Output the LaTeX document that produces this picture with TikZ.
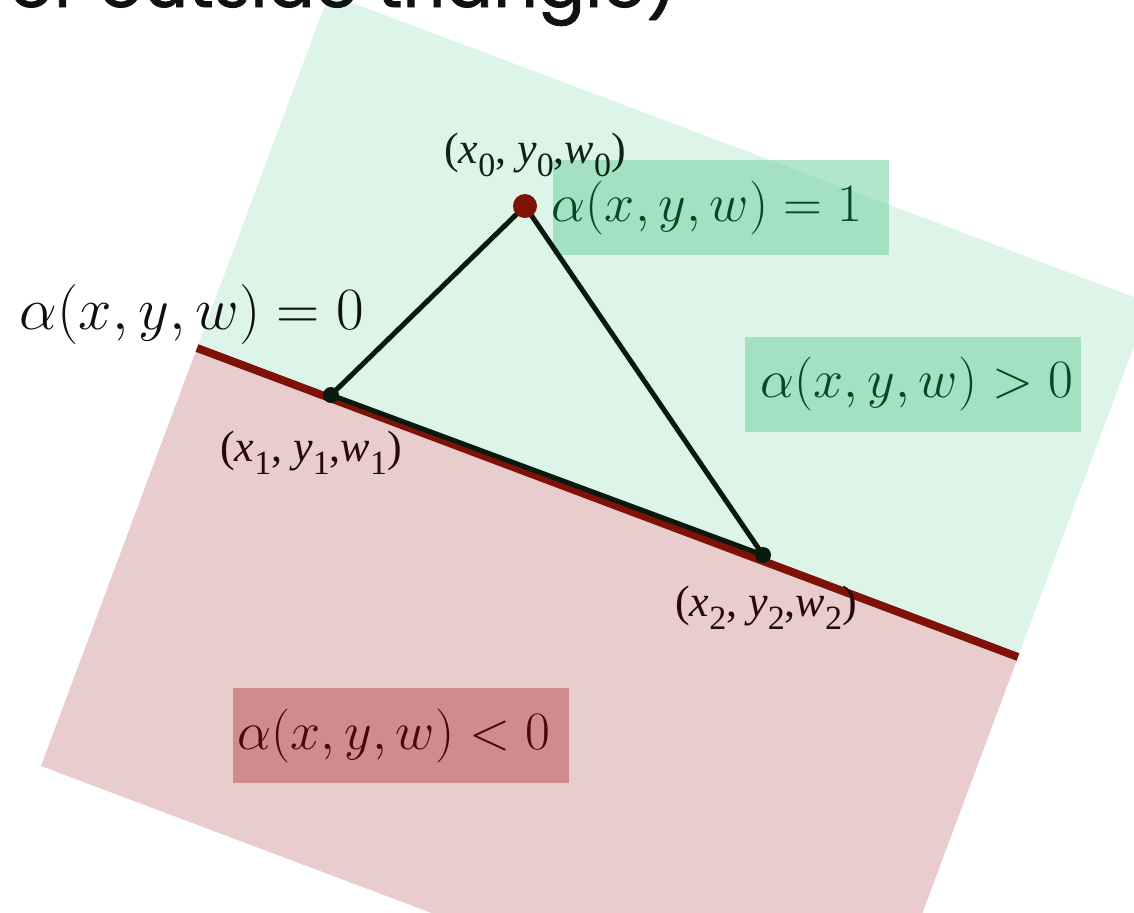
\RequirePackage{fix-cm}
\documentclass[tikz,border=0pt]{standalone}
\usepackage{fontspec}
\setmainfont{Liberation Serif}
\newfontfamily\slidefont{Poppins}[FakeBold=1.2]
\usetikzlibrary{positioning}
\definecolor{zonegreen}{RGB}{221,244,232}
\definecolor{boxgreen}{RGB}{123,213,167}
\definecolor{zonered}{RGB}{233,204,205}
\definecolor{boxred}{RGB}{209,139,140}
\definecolor{edgered}{RGB}{127,18,8}
\definecolor{inkgreen}{RGB}{10,70,38}
\definecolor{inkred}{RGB}{72,8,8}
\definecolor{trigray}{RGB}{8,26,14}
\newcommand{\lowidx}[1]{\raisebox{-0.3em}{\fontsize{17}{20}\selectfont #1}}
\newcommand{\vtx}[1]{(\textit{x}\lowidx{#1}, \textit{y}\lowidx{#1},\textit{w}\lowidx{#1})}

\begin{document}
\begin{tikzpicture}[x=0.5pt, y=-0.5pt,
    eqbox/.style={minimum width=168pt, minimum height=47.5pt, inner sep=0pt, font=\fontsize{27}{32}\selectfont},
    vlabel/.style={inner sep=0pt, font=\fontsize{22}{26}\selectfont},
    dot/.style={circle, fill=trigray, inner sep=0pt, minimum size=8pt},
    bigdot/.style={circle, fill=edgered, inner sep=0pt, minimum size=12pt}]
    \useasboundingbox (0,0) rectangle (1134,912);
    \clip (0,0) rectangle (1134,912);
    \coordinate (gt) at (329,-6);
    \coordinate (gl) at (197,348);
    \coordinate (gr) at (1018,657);
    \coordinate (gd) at (1150,303);
    \coordinate (rb) at (862,1075);
    \coordinate (rl) at (41,766);
    \fill[zonegreen] (gt) -- (gl) -- (gr) -- (gd) -- cycle;
    \fill[zonered] (gl) -- (gr) -- (rb) -- (rl) -- cycle;
    \node[eqbox, fill=boxgreen, fill opacity=0.59, text opacity=1, text=inkgreen] (one) at (721,207.5) {\hspace*{-14pt}$\alpha(x,y,w)=1$};
    \node[eqbox, fill=boxgreen, fill opacity=0.59, text opacity=1, text=inkgreen] (pos) at (913,384) {\hspace*{4pt}$\alpha(x,y,w)>0$};
    \node[eqbox, fill=boxred, text=inkred] (neg) at (401,735.5) {\hspace*{-7pt}$\alpha(x,y,w)<0$};
    \draw[edgered, line width=4pt] (gl) -- (gr);
    \coordinate (p0) at (525,206);
    \coordinate (p1) at (331,395);
    \coordinate (p2) at (763,555);
    \draw[trigray, line width=2.5pt, line join=round] (p0) -- (p1) -- (p2) -- cycle;
    \node[bigdot] (d0) at (p0) {};
    \node[dot] (d1) at (p1) {};
    \node[dot] (d2) at (p2) {};
    \node[vlabel, text={rgb,255:red,16;green,36;blue,22}] (l0) at (535,155) {\vtx{0}};
    \node[vlabel, text={rgb,255:red,40;green,8;blue,8}] (l1) at (311,453) {\vtx{1}};
    \node[vlabel, text={rgb,255:red,40;green,8;blue,8}] (l2) at (766,608) {\vtx{2}};
    \node[inner sep=0pt, font=\fontsize{30}{36}\selectfont, text={rgb,255:red,15;green,15;blue,15}] (zero) at (192,314) {$\alpha(x,y,w)=0$};
    \node[anchor=base east, inner sep=0pt, font=\slidefont\fontsize{35}{42}\selectfont, text={rgb,255:red,17;green,17;blue,17}] (title) at (678,7) {or outside triangle)};
\end{tikzpicture}
\end{document}
